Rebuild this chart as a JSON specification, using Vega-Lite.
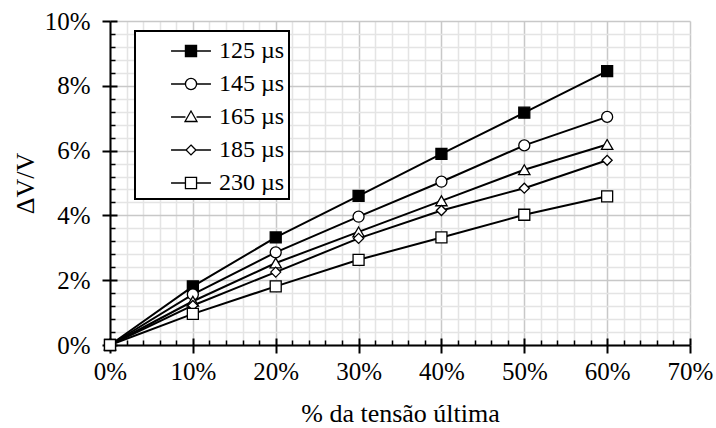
{
  "$schema": "https://vega.github.io/schema/vega-lite/v6.json",
  "width": 580,
  "height": 324,
  "autosize": "none",
  "padding": {"left": 110, "top": 21, "right": 26, "bottom": 83},
  "background": "white",
  "config": {
    "view": {"stroke": null},
    "font": "Liberation Serif",
    "legend": {
      "orient": "none",
      "legendX": 25,
      "legendY": 10,
      "strokeColor": "black",
      "strokeWidth": 2,
      "fillColor": "white",
      "padding": 4,
      "symbolSize": 900,
      "symbolStrokeWidth": 1.3,
      "symbolOpacity": 1,
      "symbolOffset": 36,
      "labelOffset": 12,
      "labelFont": "Liberation Serif",
      "labelFontSize": 24,
      "labelColor": "black",
      "rowPadding": 5
    }
  },
  "data": {
    "values": [
      {"s": "125 µs", "t": 0, "dv": 0},
      {"s": "125 µs", "t": 0.1, "dv": 0.0181},
      {"s": "125 µs", "t": 0.2, "dv": 0.0332},
      {"s": "125 µs", "t": 0.3, "dv": 0.046},
      {"s": "125 µs", "t": 0.4, "dv": 0.059},
      {"s": "125 µs", "t": 0.5, "dv": 0.0717},
      {"s": "125 µs", "t": 0.6, "dv": 0.0845},
      {"s": "145 µs", "t": 0, "dv": 0},
      {"s": "145 µs", "t": 0.1, "dv": 0.0156},
      {"s": "145 µs", "t": 0.2, "dv": 0.0286},
      {"s": "145 µs", "t": 0.3, "dv": 0.0396},
      {"s": "145 µs", "t": 0.4, "dv": 0.0504},
      {"s": "145 µs", "t": 0.5, "dv": 0.0616},
      {"s": "145 µs", "t": 0.6, "dv": 0.0704},
      {"s": "165 µs", "t": 0, "dv": 0},
      {"s": "165 µs", "t": 0.1, "dv": 0.0135},
      {"s": "165 µs", "t": 0.2, "dv": 0.0253},
      {"s": "165 µs", "t": 0.3, "dv": 0.0349},
      {"s": "165 µs", "t": 0.4, "dv": 0.0445},
      {"s": "165 µs", "t": 0.5, "dv": 0.0541},
      {"s": "165 µs", "t": 0.6, "dv": 0.0619},
      {"s": "185 µs", "t": 0, "dv": 0},
      {"s": "185 µs", "t": 0.1, "dv": 0.0122},
      {"s": "185 µs", "t": 0.2, "dv": 0.0225},
      {"s": "185 µs", "t": 0.3, "dv": 0.0329},
      {"s": "185 µs", "t": 0.4, "dv": 0.0415},
      {"s": "185 µs", "t": 0.5, "dv": 0.0484},
      {"s": "185 µs", "t": 0.6, "dv": 0.057},
      {"s": "230 µs", "t": 0, "dv": 0},
      {"s": "230 µs", "t": 0.1, "dv": 0.0096},
      {"s": "230 µs", "t": 0.2, "dv": 0.0181},
      {"s": "230 µs", "t": 0.3, "dv": 0.0263},
      {"s": "230 µs", "t": 0.4, "dv": 0.0332},
      {"s": "230 µs", "t": 0.5, "dv": 0.0402},
      {"s": "230 µs", "t": 0.6, "dv": 0.0459}
    ]
  },
  "resolve": {"axis": {"x": "independent", "y": "independent"}},
  "layer": [
    {
      "mark": {"type": "line", "color": "black", "strokeWidth": 2},
      "encoding": {
        "x": {
          "field": "t", "type": "quantitative",
          "scale": {"domain": [0, 0.7], "nice": false, "zero": false},
          "axis": {
            "orient": "bottom", "title": null, "labels": false, "domain": false,
            "values": [0.02,0.04,0.06,0.08,0.12,0.14,0.16,0.18,0.22,0.24,0.26,0.28,0.32,0.34,0.36,0.38,0.42,0.44,0.46,0.48,0.52,0.54,0.56,0.58,0.62,0.64,0.66,0.68],
            "grid": true, "gridColor": "#e4e4e4", "gridWidth": 1.5,
            "ticks": true, "tickSize": -5, "tickColor": "black", "tickWidth": 1.5
          }
        },
        "y": {
          "field": "dv", "type": "quantitative",
          "scale": {"domain": [0, 0.1], "nice": false, "zero": false},
          "axis": {
            "orient": "left", "title": null, "labels": false, "domain": false,
            "values": [0.004,0.008,0.012,0.016,0.024,0.028,0.032,0.036,0.044,0.048,0.052,0.056,0.064,0.068,0.072,0.076,0.084,0.088,0.092,0.096],
            "grid": true, "gridColor": "#e4e4e4", "gridWidth": 1.5,
            "ticks": true, "tickSize": -5, "tickColor": "black", "tickWidth": 1.5
          }
        },
        "detail": {"field": "s"}
      }
    },
    {
      "mark": {"type": "point", "filled": true, "stroke": "black", "strokeWidth": 1.3, "opacity": 1},
      "encoding": {
        "x": {
          "field": "t", "type": "quantitative",
          "axis": {
            "orient": "bottom", "title": "% da tensão última",
            "values": [0, 0.1, 0.2, 0.3, 0.4, 0.5, 0.6, 0.7], "format": ".0%",
            "labelFlush": false, "labelOverlap": false,
            "grid": true, "gridColor": "#c8c8c8", "gridWidth": 1.5,
            "domain": true, "domainColor": "black", "domainWidth": 2,
            "ticks": true, "tickSize": 8, "tickColor": "black", "tickWidth": 2,
            "labelFont": "Liberation Serif", "labelFontSize": 25, "labelColor": "black", "labelPadding": 6,
            "titleFont": "Liberation Serif", "titleFontSize": 26, "titleFontWeight": "normal", "titleColor": "black", "titlePadding": 16
          }
        },
        "y": {
          "field": "dv", "type": "quantitative",
          "axis": {
            "orient": "left", "title": "ΔV/V",
            "values": [0, 0.02, 0.04, 0.06, 0.08, 0.1], "format": ".0%",
            "labelFlush": false, "labelOverlap": false,
            "grid": true, "gridColor": "#c8c8c8", "gridWidth": 1.5,
            "domain": true, "domainColor": "black", "domainWidth": 2,
            "ticks": true, "tickSize": 8, "tickColor": "black", "tickWidth": 2,
            "labelFont": "Liberation Serif", "labelFontSize": 25, "labelColor": "black", "labelPadding": 12,
            "titleFont": "Liberation Serif", "titleFontSize": 26, "titleFontWeight": "normal", "titleColor": "black", "titlePadding": 6
          }
        },
        "shape": {
          "condition": [
            {"test": "datum.s === '145 µs'", "value": "circle"},
            {"test": "datum.s === '165 µs'", "value": "triangle-up"},
            {"test": "datum.s === '185 µs'", "value": "diamond"}
          ],
          "value": "square"
        },
        "size": {
          "condition": [
            {"test": "datum.s === '145 µs'", "value": 121},
            {"test": "datum.s === '165 µs'", "value": 130},
            {"test": "datum.s === '185 µs'", "value": 100}
          ],
          "value": 121
        },
        "fill": {
          "condition": {"test": "datum.s === '125 µs'", "value": "black"},
          "value": "white"
        }
      }
    },
    {
      "mark": {"type": "point", "filled": true, "strokeWidth": 1.3, "opacity": 0},
      "encoding": {
        "x": {
          "field": "t", "type": "quantitative",
          "axis": {
            "orient": "bottom", "title": null, "labels": false, "domain": false, "grid": false,
            "values": [0, 0.1, 0.2, 0.3, 0.4, 0.5, 0.6, 0.7],
            "ticks": true, "tickSize": -7, "tickColor": "black", "tickWidth": 2
          }
        },
        "y": {
          "field": "dv", "type": "quantitative",
          "axis": {
            "orient": "left", "title": null, "labels": false, "domain": false, "grid": false,
            "values": [0, 0.02, 0.04, 0.06, 0.08, 0.1],
            "ticks": true, "tickSize": -7, "tickColor": "black", "tickWidth": 2
          }
        },
        "shape": {
          "field": "s", "type": "nominal",
          "scale": {
            "domain": ["125 µs", "145 µs", "165 µs", "185 µs", "230 µs"],
            "range": [
              "M-1.33,0H-0.37M0.37,0H1.33M-0.37,-0.37H0.37V0.37H-0.37Z",
              "M-1.33,0H-0.37M0.37,0H1.33M-0.37,0A0.37,0.37 0 1,0 0.37,0A0.37,0.37 0 1,0 -0.37,0Z",
              "M-1.33,0H-0.37M0.37,0H1.33M0,-0.4L0.4,0.3H-0.4Z",
              "M-1.33,0H-0.33M0.33,0H1.33M0,-0.33L0.33,0L0,0.33L-0.33,0Z",
              "M-1.33,0H-0.37M0.37,0H1.33M-0.37,-0.37H0.37V0.37H-0.37Z"
            ]
          },
          "legend": {"title": null}
        },
        "fill": {
          "field": "s", "type": "nominal",
          "scale": {
            "domain": ["125 µs", "145 µs", "165 µs", "185 µs", "230 µs"],
            "range": ["black", "white", "white", "white", "white"]
          },
          "legend": {"title": null}
        },
        "stroke": {
          "field": "s", "type": "nominal",
          "scale": {
            "domain": ["125 µs", "145 µs", "165 µs", "185 µs", "230 µs"],
            "range": ["black", "black", "black", "black", "black"]
          },
          "legend": {"title": null}
        }
      }
    }
  ]
}
